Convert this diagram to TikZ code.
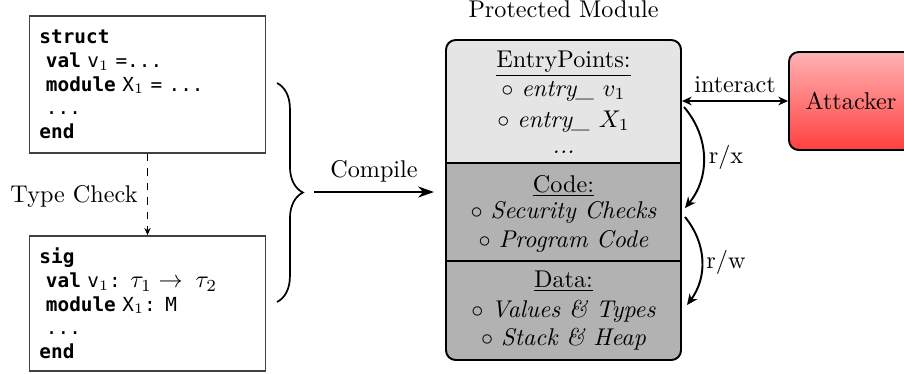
\documentclass[tikz,border=0pt]{standalone}
\usepackage{fontspec}
\setmonofont{DejaVu Sans Mono}
\usetikzlibrary{arrows.meta,decorations.pathreplacing}
\newlength\pxu
\setlength\pxu{0.4132pt}
\begin{document}
\begin{tikzpicture}[x=0.4132pt, y=-0.4132pt,
  codebox/.style={draw=black!75, line width=0.6pt, minimum width=236\pxu,
    minimum height=137\pxu, text width=216\pxu, inner xsep=10\pxu, inner ysep=0pt,
    align=left, font=\ttfamily\fontsize{8}{9.81}\selectfont},
  lbl/.style={anchor=base, inner sep=0pt},
  curvearrow/.style={line width=0.8pt, -{Stealth[length=4.5pt,width=4pt]}},
  section/.style={thick}
]
\useasboundingbox (0,0) rectangle (904,373);

% source boxes
\node[codebox] (st) at (147.5,84.5) {\textbf{struct}\\
\ \textbf{val} v$_1$ =...\\
\ \textbf{module} X$_1$ = ...\\
\ ...\\
\textbf{end}};
\node[codebox, minimum height=135\pxu] (sg) at (147.5,303.4) {\textbf{sig}\\
\ \textbf{val} v$_1$: {\fontsize{10}{9.81}\selectfont$\tau_1 \rightarrow$\ \ $\tau_2$}\\
\ \textbf{module} X$_1$: M\\
\ ...\\
\textbf{end}};
\draw[dashed, line width=0.4pt, -{Stealth[length=3pt,width=2.6pt]}] (st) -- (sg);
\node[anchor=base east, inner sep=0pt] (tc) at (138,202) {Type Check};

% brace and compile arrow
\coordinate (bt) at (277,83);
\coordinate (bb) at (277,302);
\draw[decorate, decoration={brace, amplitude=10.7pt}, line width=0.7pt] (bt) -- (bb);
\coordinate (cs) at (314,192);
\coordinate (ce) at (434,192);
\draw[line width=1.2pt, -{Stealth[length=6.5pt,width=4.5pt,inset=2pt]}] (cs) -- (ce);
\node[lbl] (cl) at (374,177) {Compile};

% protected module
\node[lbl] (pmt) at (563.5,17) {Protected Module};
\begin{scope}
  \clip[rounded corners=4pt] (446,40) rectangle (681,360);
  \fill[gray!60] (446,40) rectangle (681,360);
  \fill[gray!20] (446,40) rectangle (681,163);
\end{scope}
\node[draw, thick, rounded corners=4pt, minimum width=235\pxu, minimum height=320\pxu, inner sep=0pt] (pm) at (563.5,200) {};
\draw[section] (pm.west |- 0,163) -- (pm.east |- 0,163);
\draw[section] (pm.west |- 0,261) -- (pm.east |- 0,261);

\node[lbl] (e1) at (563.5,67) {\underline{EntryPoints:}};
\node[lbl] (e2) at (563.5,96) {$\circ$ \textit{entry\_ $v_1$}};
\node[lbl] (e3) at (563.5,127) {$\circ$ \textit{entry\_ $X_1$}};
\node[lbl] (e4) at (563.5,153) {\textit{...}};
\node[lbl] (c1) at (563.5,192) {\underline{Code:}};
\node[lbl] (c2) at (563.5,218) {$\circ$ \textit{Security Checks}};
\node[lbl] (c3) at (563.5,247) {$\circ$ \textit{Program Code}};
\node[lbl] (d1) at (563.5,287) {\underline{Data:}};
\node[lbl] (d2) at (563.5,317) {$\circ$ \textit{Values \& Types}};
\node[lbl] (d3) at (563.5,345) {$\circ$ \textit{Stack \& Heap}};

% attacker
\node[draw, thick, rounded corners=4pt, top color=red!30, bottom color=red!75,
  minimum width=124\pxu, minimum height=98\pxu] (att) at (851,101) {Attacker};
\draw[line width=0.8pt, {Stealth[length=4pt,width=3.6pt]}-{Stealth[length=4pt,width=3.6pt]}]
  (pm.east |- att.west) -- (att.west);
\node[lbl] (il) at (735,92) {interact};

% access arrows
\coordinate (rx1) at (684,107);
\coordinate (rx2) at (685,208);
\coordinate (rw1) at (685,217);
\coordinate (rw2) at (687,305);
\draw[curvearrow] (rx1) to[bend left=40] (rx2);
\draw[curvearrow] (rw1) to[bend left=38] (rw2);
\node[lbl] (rxl) at (726,163) {r/x};
\node[lbl] (rwl) at (726,268) {r/w};
\end{tikzpicture}
\end{document}
